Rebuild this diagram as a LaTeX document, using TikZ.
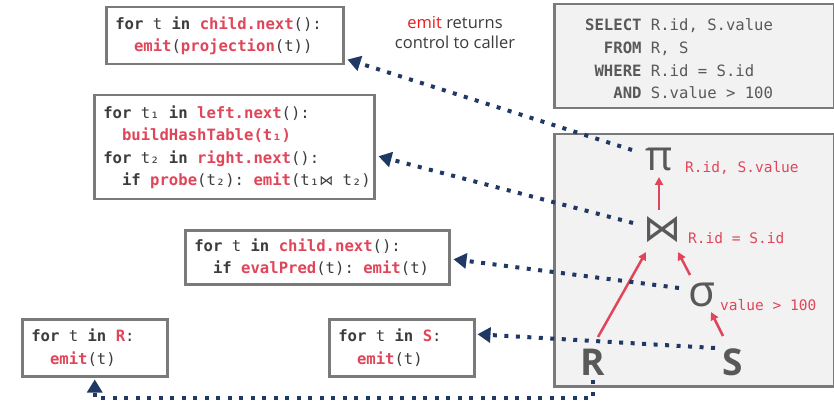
\documentclass[tikz,border=0pt]{standalone}
\usepackage{fontspec}
\setmainfont{Open Sans}
\newfontfamily\codefont{DejaVu Sans Mono}
\newfontfamily\symfont{DejaVu Sans}
\usetikzlibrary{arrows.meta,calc}
\definecolor{codered}{HTML}{E0465A}
\definecolor{codegray}{HTML}{3C3C3C}
\definecolor{boxgray}{HTML}{7A7A7A}
\definecolor{panelfill}{HTML}{F2F2F2}
\definecolor{navy}{HTML}{1F3864}
\definecolor{symgray}{HTML}{595959}
\definecolor{emitred}{HTML}{F01818}
\newcommand{\kw}[1]{\textbf{#1}}
\newcommand{\fn}[1]{\textcolor{codered}{\textbf{#1}}}
\newcommand{\spc}{\hspace*{0.602em}}
\newcommand{\ind}{\hspace*{1.204em}}
\tikzset{
  codebox/.style={draw=boxgray, line width=2.5pt, fill=white, anchor=north west,
    inner xsep=9pt, inner ysep=0pt, align=left, text=codegray,
    font=\codefont\fontsize{15.6}{22.5}\selectfont},
  panel/.style={draw=boxgray, line width=2.5pt, fill=panelfill, anchor=north west, inner sep=0pt},
  opsym/.style={text=symgray, inner sep=0pt},
  oplabel/.style={text=codered, anchor=west, inner sep=0pt, font=\codefont\fontsize{14.5}{16}\selectfont},
  redarrow/.style={draw=codered, line width=2.5pt, -{Triangle[length=8pt,width=8pt]}},
  callarrow/.style={draw=navy, line width=4pt, dash pattern=on 4pt off 7.5pt, -{Triangle[length=13pt,width=15pt]}}
}
\begin{document}
\begin{tikzpicture}[x=1pt,y=-1pt]
\useasboundingbox (0,0) rectangle (834,403);
% panels
\node[panel, minimum width=280pt, minimum height=104pt] (sql) at (553,3) {};
\node[anchor=west, inner sep=0pt, text=symgray, font=\codefont\fontsize{15.6}{24}\selectfont] (sqltext) at (585,60)
 {\begin{tabular}{@{}r@{\spc}l@{}}
  \textbf{SELECT} & R.id,\spc S.value\\[-1.2pt]
  \textbf{FROM} & R,\spc S\\[-1.2pt]
  \textbf{WHERE} & R.id\spc=\spc S.id\\[-1.2pt]
  \textbf{AND} & S.value\spc>\spc 100
 \end{tabular}};
\node[panel, minimum width=280pt, minimum height=252pt] (tree) at (553,133) {};
% code boxes
\node[codebox, text width=219pt, minimum height=57pt] (proj) at (105,6)
 {\kw{for}\spc t\spc\kw{in}\spc\fn{child.next}():\\
  \ind\fn{emit}(\fn{projection}(t))};
\node[codebox, text width=262pt, minimum height=104pt] (joinbox) at (93,94)
 {\kw{for}\spc t₁\spc\kw{in}\spc\fn{left.next}():\\
  \ind\fn{buildHashTable(t₁)}\\
  \kw{for}\spc t₂\spc\kw{in}\spc\fn{right.next}():\\
  \ind\kw{if}\spc\fn{probe}(t₂):\spc\fn{emit}(t₁{\symfont\fontsize{14}{15}\selectfont ⋈}\spc t₂)};
\node[codebox, text width=246pt, minimum height=54pt] (filter) at (184,229)
 {\kw{for}\spc t\spc\kw{in}\spc\fn{child.next}():\\
  \ind\kw{if}\spc\fn{evalPred}(t):\spc\fn{emit}(t)};
\node[codebox, text width=127pt, minimum height=57pt] (rbox) at (21,318)
 {\kw{for}\spc t\spc\kw{in}\spc\fn{R}:\\
  \ind\fn{emit}(t)};
\node[codebox, text width=127pt, minimum height=57pt] (sbox) at (328,318)
 {\kw{for}\spc t\spc\kw{in}\spc\fn{S}:\\
  \ind\fn{emit}(t)};
% note
\node[align=center, inner sep=0pt, text=codegray, font=\fontsize{16.5}{20}\selectfont] (note) at (455,33)
 {\textcolor{emitred}{emit} returns\\control to caller};
% operator tree
\node[opsym, font=\fontsize{42}{42}\selectfont] (pi) at (659,159) {π};
\node[opsym, font=\symfont\fontsize{38}{38}\selectfont] (join) at (662,230) {⋈};
\node[opsym, font=\fontsize{44}{44}\selectfont] (sigma) at (702,295) {σ};
\node[opsym, font=\bfseries\fontsize{37}{37}\selectfont] (R) at (593,362) {R};
\node[opsym, font=\bfseries\fontsize{37}{37}\selectfont] (S) at (733,362) {S};
\node[oplabel] (pilab) at (685,168) {R.id,\spc S.value};
\node[oplabel] (joinlab) at (688,238) {R.id\spc=\spc S.id};
\node[oplabel] (sigmalab) at (720,305) {value\spc>\spc 100};
% red data-flow arrows
\draw[redarrow] ($(join.center)+(-3,-20)$) -- ($(pi.center)+(0,18)$);
\draw[redarrow] ($(sigma.center)+(-12,-20)$) -- ($(join.center)+(16,22)$);
\draw[redarrow] ($(R.center)+(5,-25)$) -- ($(join.center)+(-16,22)$);
\draw[redarrow] ($(S.center)+(-10,-26)$) -- ($(sigma.center)+(9,17)$);
% call arrows
\draw[callarrow] ($(pi.center)+(-27,-9)$) -- ($(proj.south east)+(3,-6)$);
\draw[callarrow] ($(join.center)+(-29,-7)$) -- ($(joinbox.east)+(3,9)$);
\draw[callarrow] ($(sigma.center)+(-23,-7)$) -- ($(filter.east)+(3,2)$);
\draw[callarrow] ($(S.center)+(-18,-14)$) -- ($(sbox.east)+(2,-13.5)$);
\draw[callarrow] ($(R.center)+(0,18)$) -- ++(0,18) -| ($(rbox.south)+(0,2)$);
\end{tikzpicture}
\end{document}
